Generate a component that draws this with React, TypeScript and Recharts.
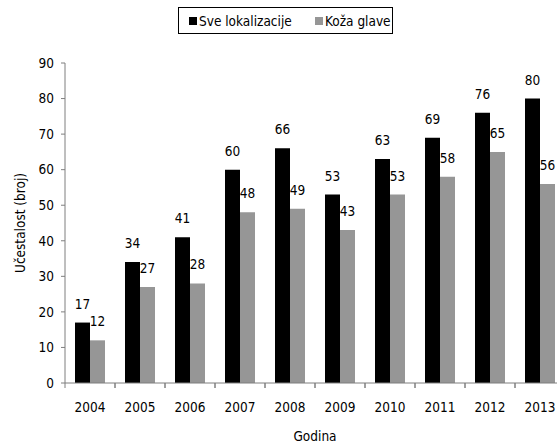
import React from "react";
import { BarChart, Bar, XAxis, YAxis, LabelList } from "recharts";

const godine = ["2004", "2005", "2006", "2007", "2008", "2009", "2010", "2011", "2012", "2013"];
const sveLokalizacije = [17, 34, 41, 60, 66, 53, 63, 69, 76, 80];
const kozaGlave = [12, 27, 28, 48, 49, 43, 53, 58, 65, 56];
const yTicks = [0, 10, 20, 30, 40, 50, 60, 70, 80, 90];

const FONT = '"DejaVu Sans Condensed", "Liberation Sans", sans-serif';
const FS = 13.5;
const AXIS = "#7f7f7f";
const TICK_SIZE = 5;
const TICK_MARGIN = 14;

const data = godine.map((g, i) => ({
  godina: g,
  sve: sveLokalizacije[i],
  koza: kozaGlave[i],
}));

// oznaka godine + crtice na granicama kategorije
function GodinaTick(props: any) {
  const { x, y, payload, width, visibleTicksCount } = props;
  const band = width / visibleTicksCount;
  const axisY = y - TICK_SIZE - TICK_MARGIN;
  const left = x - band / 2;
  return (
    <g>
      <line x1={left} x2={left} y1={axisY} y2={axisY + TICK_SIZE} stroke={AXIS} />
      <line x1={left + band} x2={left + band} y1={axisY} y2={axisY + TICK_SIZE} stroke={AXIS} />
      <text x={x} y={y} dy="0.71em" textAnchor="middle" fill="#000" fontSize={FS}>
        {payload.value}
      </text>
    </g>
  );
}

function Legenda() {
  const item = (left: number, color: string, text: string) => (
    <div style={{ position: "absolute", left, top: 0, height: 25, display: "flex", alignItems: "center" }}>
      <span style={{ width: 8, height: 8, background: color, marginRight: 2 }} />
      {text}
    </div>
  );
  return (
    <div
      style={{
        position: "absolute",
        left: 178,
        top: 7,
        width: 215,
        height: 27,
        border: "1px solid #000",
        boxSizing: "border-box",
        fontFamily: FONT,
        fontSize: FS,
        color: "#000",
        background: "#fff",
        whiteSpace: "nowrap",
      }}
    >
      {item(10, "#000000", "Sve lokalizacije")}
      {item(136, "#969696", "Koža glave")}
    </div>
  );
}

export default function App() {
  return (
    <div
      style={{
        position: "absolute",
        left: 0,
        top: 0,
        width: 557,
        height: 446,
        overflow: "hidden",
        background: "#fff",
      }}
    >
      <BarChart
        width={575}
        height={446}
        data={data}
        margin={{ top: 63, right: 10, left: 0, bottom: 23 }}
        barCategoryGap="20%"
        barGap={0}
        style={{ fontFamily: FONT }}
      >
        <XAxis
          dataKey="godina"
          height={40}
          axisLine={{ stroke: AXIS }}
          tickLine={false}
          tickSize={TICK_SIZE}
          tickMargin={TICK_MARGIN}
          tick={<GodinaTick />}
          interval={0}
          label={{ value: "Godina", position: "bottom", offset: 8, fill: "#000", fontSize: FS }}
        />
        <YAxis
          width={65}
          domain={[0, 90]}
          ticks={yTicks}
          interval={0}
          tickSize={4}
          tickMargin={7}
          tick={{ fill: "#000", fontSize: FS }}
          axisLine={{ stroke: AXIS }}
          tickLine={{ stroke: AXIS }}
          label={({ viewBox }: any) => (
            <text
              x={20}
              y={viewBox.y + viewBox.height / 2}
              transform={`rotate(-90, 20, ${viewBox.y + viewBox.height / 2})`}
              textAnchor="middle"
              dominantBaseline="central"
              fontSize={FS}
              fill="#000"
            >
              Učestalost (broj)
            </text>
          )}
        />
        <Bar dataKey="sve" fill="#000000" isAnimationActive={false}>
          <LabelList dataKey="sve" position="top" offset={14} fill="#000" fontSize={FS} />
        </Bar>
        <Bar dataKey="koza" fill="#969696" isAnimationActive={false}>
          <LabelList dataKey="koza" position="top" offset={14} fill="#000" fontSize={FS} />
        </Bar>
      </BarChart>
      <Legenda />
    </div>
  );
}
